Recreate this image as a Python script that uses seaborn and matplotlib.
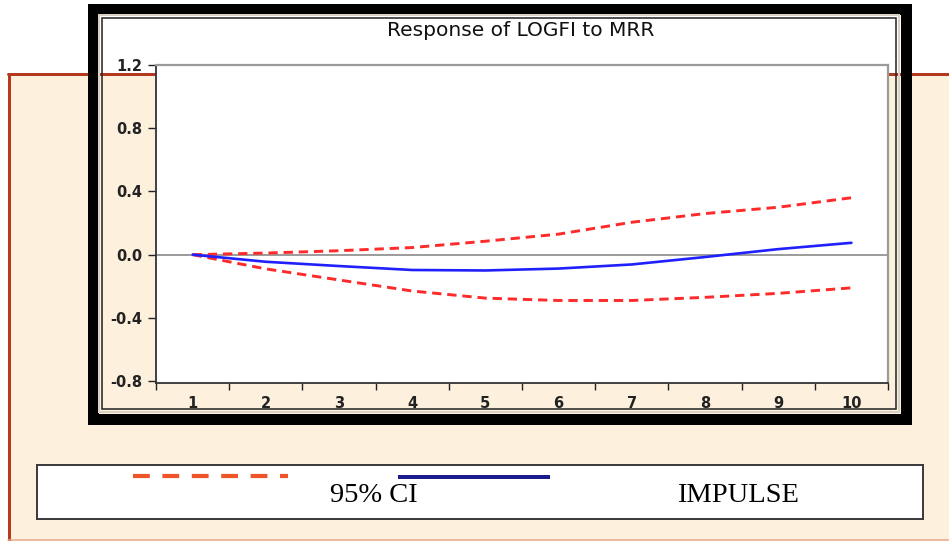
import seaborn as sns
import matplotlib.pyplot as plt
import matplotlib.patches as mpatches
import matplotlib.lines as mlines
import numpy as np
import pandas as pd


# Data

periods = [1, 2, 3, 4, 5, 6, 7, 8, 9, 10]
impulse = [0.0, -0.045, -0.072, -0.097, -0.100, -0.088, -0.062, -0.015, 0.035, 0.075]
ci_upper = [0.0, 0.010, 0.025, 0.045, 0.085, 0.130, 0.205, 0.260, 0.300, 0.360]
ci_lower = [0.0, -0.090, -0.160, -0.230, -0.275, -0.290, -0.290, -0.270, -0.245, -0.210]
y_ticks = [1.2, 0.8, 0.4, 0.0, -0.4, -0.8]
title = "Response of LOGFI to MRR"
legend_labels = ["95% CI", "IMPULSE"]

df = pd.DataFrame({
    "Period": periods,
    "Impulse": impulse,
    "Upper": ci_upper,
    "Lower": ci_lower,
})


# Style

sns.set_style("white")
plt.rcParams["font.family"] = ["DejaVu Sans"]

W, H = 949, 541
fig = plt.figure(figsize=(W / 100, H / 100), dpi=100)
fig.patch.set_facecolor("white")


def fx(x):
    return x / W


def fy(y):
    return 1 - y / H


def pt(px):
    return px * 72 / 100


# Beige slide panel with borders

panel = mpatches.Rectangle((fx(8), fy(539)), fx(W - 8 + 5), fy(74) - fy(539),
                           transform=fig.transFigure, facecolor="#fdf0dc",
                           edgecolor="none", zorder=0)
fig.patches.append(panel)
fig.lines.append(mlines.Line2D([fx(8), fx(W)], [fy(74), fy(74)], transform=fig.transFigure,
                               color="#b5391f", lw=pt(3), zorder=1))
fig.lines.append(mlines.Line2D([fx(8.5), fx(8.5)], [fy(74), fy(540)], transform=fig.transFigure,
                               color="#b5391f", lw=pt(3), zorder=1))
fig.lines.append(mlines.Line2D([fx(8), fx(W)], [fy(539.5), fy(539.5)], transform=fig.transFigure,
                               color="#e9a27c", lw=pt(1.5), zorder=1))


# Black chart frame

frame = mpatches.Rectangle((fx(92.5), fy(418.5)), fx(905.5 - 92.5), fy(8.5) - fy(418.5),
                           transform=fig.transFigure, facecolor="none",
                           edgecolor="black", lw=pt(11), zorder=2)
fig.patches.append(frame)
inner_light = mpatches.Rectangle((fx(99), fy(412)), fx(899 - 99), fy(15) - fy(412),
                                 transform=fig.transFigure, facecolor="none",
                                 edgecolor="#d9d2c4", lw=pt(2), zorder=2)
fig.patches.append(inner_light)
inner_dark = mpatches.Rectangle((fx(101.5), fy(409)), fx(896 - 101.5), fy(18) - fy(409),
                                transform=fig.transFigure, facecolor="none",
                                edgecolor="#2a2a2a", lw=pt(1.6), zorder=2)
fig.patches.append(inner_dark)

fig.text(fx(521), fy(30), title, ha="center", va="center", fontsize=14.5, color="#111111")


# Plot area

ax = fig.add_axes([fx(156), fy(383), fx(888 - 156), fy(65) - fy(383)])
ax.set_facecolor("white")
ax.set_zorder(3)

ax.axhline(0, color="#808080", lw=1.1, zorder=1)
sns.lineplot(data=df, x="Period", y="Upper", ax=ax, color="#ff2a2a", lw=2.1, zorder=3)
ax.lines[-1].set_dashes([3.2, 2.0])
sns.lineplot(data=df, x="Period", y="Lower", ax=ax, color="#ff2a2a", lw=2.1, zorder=3)
ax.lines[-1].set_dashes([3.2, 2.0])
sns.lineplot(data=df, x="Period", y="Impulse", ax=ax, color="#2020ff", lw=1.9, zorder=4)

ax.set_xlim(0.5, 10.5)
ax.set_ylim(-0.812, 1.2)
ax.set_xticks(periods)
ax.set_xticklabels([str(p) for p in periods])
ax.set_xticks(np.arange(0.5, 11, 1.0), minor=True)
ax.set_yticks(y_ticks)
ax.set_yticklabels([f"{v:.1f}" for v in y_ticks])
ax.tick_params(axis="x", which="major", length=0, pad=9, labelsize=10.5)
ax.tick_params(axis="x", which="minor", length=5, width=1, direction="out", color="#222222",
               bottom=True)
ax.tick_params(axis="y", length=6, width=1, direction="out", pad=4, labelsize=10.5,
               color="#222222", left=True)
for lab in ax.get_xticklabels() + ax.get_yticklabels():
    lab.set_fontweight("bold")
    lab.set_color("#222222")
ax.set_xlabel("")
ax.set_ylabel("")
for side in ["left", "bottom"]:
    ax.spines[side].set_color("#333333")
    ax.spines[side].set_linewidth(1.3)
for side in ["top", "right"]:
    ax.spines[side].set_color("#9a9a9a")
    ax.spines[side].set_linewidth(1.6)


# Legend box below the chart

leg = fig.add_axes([fx(37), fy(519), fx(923 - 37), fy(465) - fy(519)])
leg.set_zorder(3)
leg.set_xlim(37, 923)
leg.set_ylim(519, 465)
leg.set_xticks([])
leg.set_yticks([])
leg.set_facecolor("white")
for s in leg.spines.values():
    s.set_color("#3a3a3a")
    s.set_linewidth(1.4)
leg.plot([133, 288], [476, 476], color="#ee5528", lw=pt(4.2), dashes=[4, 3],
         solid_capstyle="butt", dash_capstyle="butt")
leg.plot([398, 550], [477, 477], color="#1b1b8f", lw=pt(4), solid_capstyle="butt")
leg.text(374, 496, legend_labels[0], ha="center", va="center", fontsize=20.5,
         family=["Liberation Serif", "DejaVu Serif"], color="black")
leg.text(738, 496, legend_labels[1], ha="center", va="center", fontsize=20.5,
         family=["Liberation Serif", "DejaVu Serif"], color="black")

fig.savefig("out.png", dpi=100)
